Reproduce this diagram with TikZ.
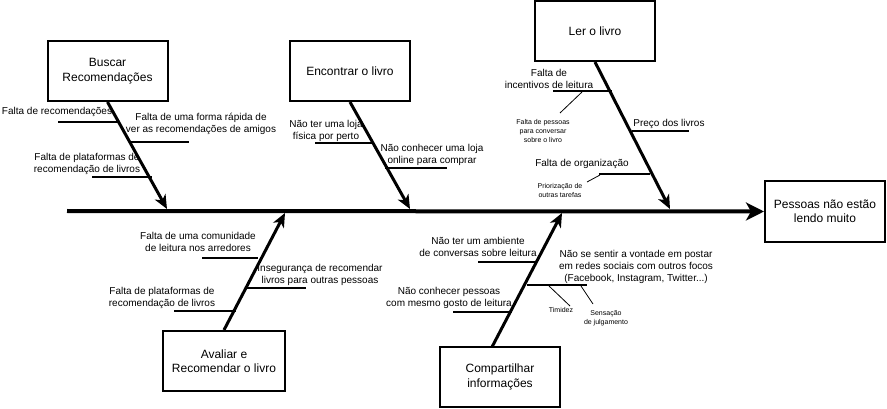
\documentclass[tikz,border=0pt]{standalone}
\usepackage{fontspec}
\setmainfont{Liberation Sans}
\usetikzlibrary{positioning}
\usetikzlibrary{arrows.meta}
\tikzstyle{cause} = [draw=black, line width=2pt,
minimum width=120pt, minimum height=60pt,
align=center, inner sep=2pt,
font=\fontsize{12}{14.5}\selectfont]
\tikzstyle{lbl} = [align=center, inner sep=0pt, font=\fontsize{10}{12}\selectfont]
\tikzstyle{tiny} = [align=center, inner sep=0pt, font=\fontsize{7}{9}\selectfont]
\tikzstyle{spine} = [line width=4pt, -{Stealth[length=18pt,width=18pt,inset=5pt]}]
\tikzstyle{bone} = [line width=3pt, -{Stealth[length=14pt,width=12pt,inset=4pt]}]
\tikzstyle{sub} = [line width=1.6pt]
\tikzstyle{thin} = [line width=0.8pt]

\begin{document}
\begin{tikzpicture}[x=1pt, y=-1pt]
    \useasboundingbox (0,0) rectangle (887,409);

    % effect and spine
    \node[cause] (effect) at (825,211.5) {Pessoas não estão\\lendo muito};
    \coordinate (tail) at (67,211);
    \draw[spine] (tail) -- (effect.west);

    % cause boxes
    \node[cause] (buscar) at (107.5,71) {Buscar\\Recomendações};
    \node[cause] (encontrar) at (350,71) {Encontrar o livro};
    \node[cause] (ler) at (595,31) {Ler o livro};
    \node[cause, minimum width=122pt] (avaliar) at (224,361) {Avaliar e\\Recomendar o livro};
    \node[cause] (compartilhar) at (500,377) {Compartilhar\\informações};

    % bones
    \coordinate (jbuscar) at (167,209);
    \coordinate (jencontrar) at (410,209);
    \coordinate (jler) at (670,209);
    \coordinate (javaliar) at (285,213);
    \coordinate (jcompartilhar) at (562,213);
    \coordinate (scompartilhar) at (492,347);
    \draw[bone] (buscar.south) -- (jbuscar);
    \draw[bone] (encontrar.south) -- (jencontrar);
    \draw[bone] (ler.south) -- (jler);
    \draw[bone] (avaliar.north) -- (javaliar);
    \draw[bone] (scompartilhar) -- (jcompartilhar);

    % Buscar Recomendacoes
    \node[lbl] (b1) at (57,112) {Falta de recomendações};
    \node[lbl] (b2) at (201,124) {Falta de uma forma rápida de\\ver as recomendações de amigos};
    \node[lbl] (b3) at (87,164) {Falta de plataformas de\\recomendação de livros};
    \coordinate (b1a) at (58,122); \coordinate (b1b) at (119,122);
    \coordinate (b2a) at (130,142); \coordinate (b2b) at (189,142);
    \coordinate (b3a) at (92,177); \coordinate (b3b) at (152,177);
    \draw[sub] (b1a) -- (b1b);
    \draw[sub] (b2a) -- (b2b);
    \draw[sub] (b3a) -- (b3b);

    % Encontrar o livro
    \node[lbl] (e1) at (326,130.5) {Não ter uma loja\\física por perto};
    \node[lbl] (e2) at (432,155) {Não conhecer uma loja\\online para comprar};
    \coordinate (e1a) at (315,143); \coordinate (e1b) at (372,143);
    \coordinate (e2a) at (385,168); \coordinate (e2b) at (447,168);
    \draw[sub] (e1a) -- (e1b);
    \draw[sub] (e2a) -- (e2b);

    % Ler o livro
    \node[lbl] (l1) at (549,79) {Falta de\\incentivos de leitura};
    \node[tiny] (l1x) at (543,131) {Falta de pessoas\\para conversar\\sobre o livro};
    \node[lbl] (l2) at (669,124) {Preço dos livros};
    \node[lbl] (l3) at (582,164) {Falta de organização};
    \node[tiny] (l3x) at (560,190) {Priorização de\\outras tarefas};
    \coordinate (l1a) at (553,91); \coordinate (l1b) at (612,91);
    \coordinate (l2a) at (632,131); \coordinate (l2b) at (689,131);
    \coordinate (l3a) at (599,174); \coordinate (l3b) at (650,174);
    \draw[sub] (l1a) -- (l1b);
    \draw[sub] (l2a) -- (l2b);
    \draw[sub] (l3a) -- (l3b);
    \coordinate (l1c) at (582,92); \coordinate (l1d) at (560,113);
    \coordinate (l3c) at (600,175); \coordinate (l3d) at (587,182);
    \draw[thin] (l1c) -- (l1d);
    \draw[thin] (l3c) -- (l3d);

    % Avaliar e Recomendar
    \node[lbl] (a1) at (198,242) {Falta de uma comunidade\\de leitura nos arredores};
    \node[lbl] (a2) at (320,274.5) {Insegurança de recomendar\\livros para outras pessoas};
    \node[lbl] (a3) at (162,298) {Falta de plataformas de\\recomendação de livros};
    \coordinate (a1a) at (202,258); \coordinate (a1b) at (258,258);
    \coordinate (a2a) at (246,288); \coordinate (a2b) at (306,288);
    \coordinate (a3a) at (174,311); \coordinate (a3b) at (236,311);
    \draw[sub] (a1a) -- (a1b);
    \draw[sub] (a2a) -- (a2b);
    \draw[sub] (a3a) -- (a3b);

    % Compartilhar informacoes
    \node[lbl] (c1) at (478,247) {Não ter um ambiente\\de conversas sobre leitura};
    \node[lbl] (c2) at (449,298) {Não conhecer pessoas\\com mesmo gosto de leitura};
    \node[lbl] (c3) at (636,267) {Não se sentir a vontade em postar\\em redes sociais com outros focos\\(Facebook, Instagram, Twitter...)};
    \node[tiny] (c3x) at (561,310) {Timidez};
    \node[tiny] (c3y) at (606,318) {Sensação\\de julgamento};
    \coordinate (c1a) at (478,262); \coordinate (c1b) at (537,262);
    \coordinate (c2a) at (453,312); \coordinate (c2b) at (512,312);
    \coordinate (c3a) at (527,285); \coordinate (c3b) at (587,285);
    \draw[sub] (c1a) -- (c1b);
    \draw[sub] (c2a) -- (c2b);
    \draw[sub] (c3a) -- (c3b);
    \coordinate (c3c) at (549,286); \coordinate (c3d) at (570,306);
    \coordinate (c3e) at (581,286); \coordinate (c3f) at (593,304);
    \draw[thin] (c3c) -- (c3d);
    \draw[thin] (c3e) -- (c3f);
\end{tikzpicture}
\end{document}
